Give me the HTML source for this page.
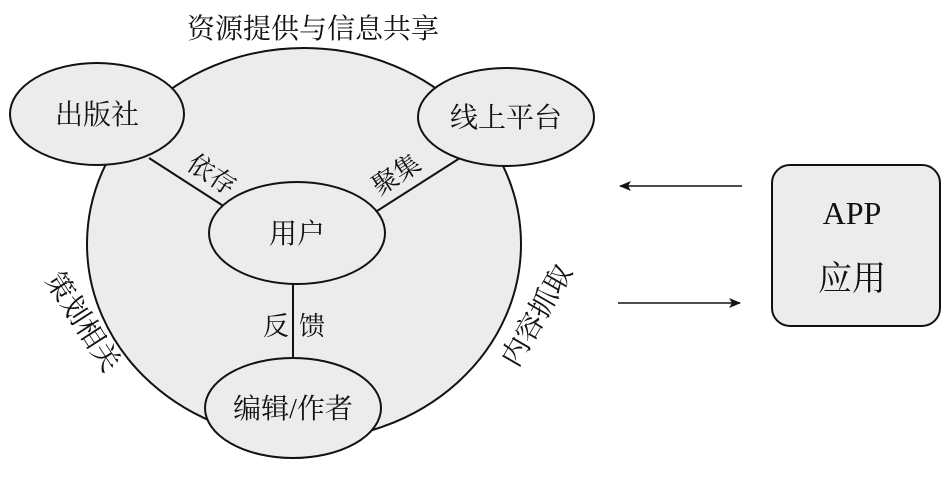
<!DOCTYPE html>
<html><head><meta charset="utf-8"><style>
html,body{margin:0;padding:0;background:#fff;}
svg text{font-family:"Liberation Serif","Noto Serif CJK SC",serif;fill:#111;}
</style></head><body>
<svg width="951" height="476" viewBox="0 0 951 476" xmlns="http://www.w3.org/2000/svg">
<defs><marker id="ah" markerWidth="12" markerHeight="10" refX="11" refY="5" orient="auto" markerUnits="userSpaceOnUse"><path d="M0,0 L12,5 L0,10 L3,5 Z" fill="#111"/></marker></defs>
<text x="313" y="38" font-size="28" text-anchor="middle">资源提供与信息共享</text>
<ellipse cx="304" cy="244" rx="217" ry="196" fill="#ececec" stroke="#111" stroke-width="2"/>
<line x1="149" y1="158" x2="225" y2="207" stroke="#111" stroke-width="2"/>
<line x1="460" y1="158" x2="377" y2="211" stroke="#111" stroke-width="2"/>
<line x1="293" y1="284" x2="293" y2="360" stroke="#111" stroke-width="2"/>
<ellipse cx="97" cy="114" rx="87" ry="51" fill="#ececec" stroke="#111" stroke-width="2"/>
<ellipse cx="506" cy="117" rx="88" ry="49" fill="#ececec" stroke="#111" stroke-width="2"/>
<ellipse cx="297" cy="233" rx="88" ry="51" fill="#ececec" stroke="#111" stroke-width="2"/>
<ellipse cx="293" cy="408" rx="88" ry="50" fill="#ececec" stroke="#111" stroke-width="2"/>
<text x="97" y="124" font-size="28" text-anchor="middle">出版社</text>
<text x="506" y="127" font-size="28" text-anchor="middle">线上平台</text>
<text x="297" y="243" font-size="28" text-anchor="middle">用户</text>
<text x="293" y="418" font-size="28" text-anchor="middle">编辑/作者</text>
<text transform="translate(207,182) rotate(33)" font-size="26" text-anchor="middle">依存</text>
<text transform="translate(401,182) rotate(-33)" font-size="26" text-anchor="middle">聚集</text>
<text x="276" y="335" font-size="26" text-anchor="middle">反</text>
<text x="312" y="335" font-size="26" text-anchor="middle">馈</text>
<text transform="translate(75,327) rotate(57)" font-size="28" text-anchor="middle">策划相关</text>
<text transform="translate(545,320) rotate(-60)" font-size="28" text-anchor="middle">内容抓取</text>
<line x1="742" y1="186" x2="620" y2="186" stroke="#111" stroke-width="1.5" marker-end="url(#ah)"/>
<line x1="618" y1="303" x2="740" y2="303" stroke="#111" stroke-width="1.5" marker-end="url(#ah)"/>
<rect x="772" y="165" width="168" height="161" rx="18" ry="18" fill="#ececec" stroke="#111" stroke-width="2"/>
<text x="852" y="224" font-size="32" text-anchor="middle">APP</text>
<text x="852" y="290" font-size="34" text-anchor="middle">应用</text>
</svg>
</body></html>
